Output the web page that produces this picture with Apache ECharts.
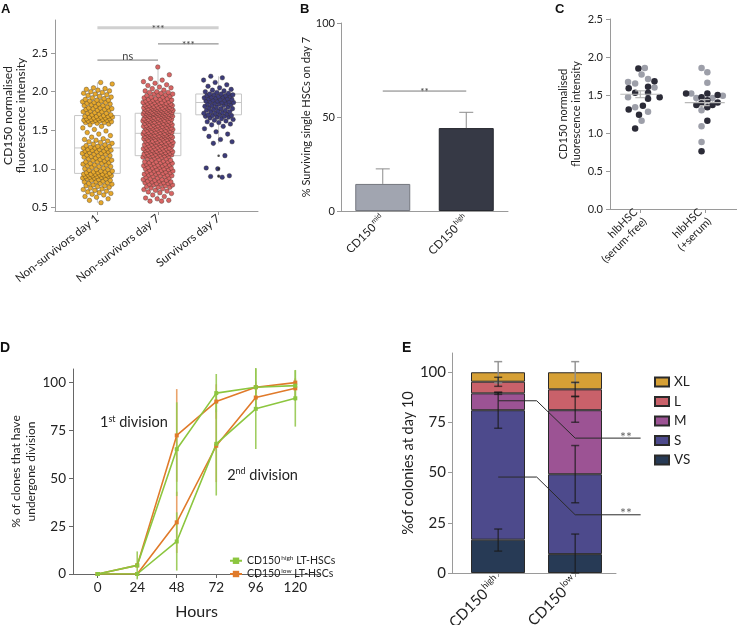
<!DOCTYPE html>
<html>
<head>
<meta charset="utf-8">
<script src="https://cdn.jsdelivr.net/npm/echarts@6/dist/echarts.min.js"></script>
<style>html,body{margin:0;background:#fff}#chart{width:737px;height:625px}</style>
</head>
<body>
<div id="chart"></div>
<script>
// ---- panel A: CD150 intensity per fate ----
var namesA = ['Non-survivors day 1', 'Non-survivors day 7', 'Survivors day 7'];
// [min, Q1, median, Q3, max]
var boxA = [[0.56, 0.94, 1.27, 1.69, 2.12], [0.58, 1.17, 1.46, 1.72, 2.32], [1.33, 1.70, 1.86, 1.97, 2.20]];
var nsDay1 = [0.56,0.59,0.61,0.63,0.64,0.66,0.67,0.68,0.69,0.70,0.71,0.72,0.73,0.74,0.75,0.76,0.77,0.78,0.78,0.79,
  0.80,0.81,0.81,0.82,0.83,0.83,0.84,0.85,0.85,0.86,0.87,0.87,0.88,0.88,0.89,0.89,0.90,0.90,0.90,0.91,
  0.91,0.91,0.92,0.92,0.92,0.93,0.93,0.93,0.93,0.94,0.95,0.95,0.96,0.96,0.97,0.97,0.98,0.99,0.99,
  1.00,1.01,1.02,1.03,1.03,1.04,1.05,1.05,1.06,1.07,1.07,1.08,1.09,1.09,1.10,1.11,1.11,1.12,1.13,1.13,
  1.14,1.15,1.15,1.16,1.17,1.17,1.18,1.19,1.19,1.20,1.20,1.21,1.22,1.22,1.23,1.23,1.24,1.24,1.25,1.25,1.26,
  1.27,1.27,1.28,1.28,1.29,1.29,1.30,1.31,1.32,1.33,1.34,1.35,1.36,1.37,1.38,1.39,1.41,1.43,1.45,1.47,1.49,
  1.51,1.53,1.55,1.57,1.58,1.59,1.60,1.60,1.61,1.61,1.62,1.62,1.63,1.63,1.63,1.64,1.64,1.65,1.65,1.65,
  1.66,1.66,1.67,1.67,1.67,1.68,1.68,1.68,1.69,1.70,1.70,1.71,1.72,1.72,1.73,1.74,1.74,1.75,1.76,1.76,
  1.77,1.77,1.78,1.78,1.79,1.79,1.80,1.81,1.82,1.82,1.83,1.84,1.84,1.85,1.86,1.86,1.87,1.88,1.88,1.89,1.89,
  1.90,1.91,1.92,1.93,1.94,1.95,1.96,1.97,1.98,1.99,2.00,2.01,2.02,2.03,2.04,2.05,2.10,2.12];
var nsDay7 = [0.58,0.58,0.59,0.61,0.62,0.64,0.66,0.68,0.69,0.70,0.71,0.72,0.73,0.74,0.75,0.76,0.76,0.77,0.78,0.79,0.79,
  0.80,0.80,0.81,0.81,0.82,0.82,0.83,0.83,0.84,0.84,0.85,0.85,0.86,0.86,0.87,0.88,0.88,0.89,
  0.90,0.90,0.91,0.91,0.92,0.92,0.93,0.93,0.94,0.94,0.95,0.95,0.96,0.96,0.97,0.97,0.98,0.98,0.99,0.99,
  1.00,1.00,1.01,1.01,1.02,1.02,1.03,1.03,1.04,1.04,1.05,1.05,1.05,1.06,1.06,1.07,1.07,1.08,1.08,1.09,1.09,1.09,
  1.10,1.11,1.11,1.12,1.13,1.13,1.14,1.15,1.15,1.16,1.16,1.16,1.17,1.17,1.17,1.18,1.18,1.18,1.19,1.19,1.19,
  1.20,1.20,1.20,1.21,1.21,1.21,1.22,1.22,1.22,1.23,1.23,1.23,1.24,1.24,1.24,1.25,1.25,1.25,1.26,1.26,1.26,
  1.27,1.27,1.27,1.28,1.28,1.29,1.29,1.30,1.30,1.30,1.31,1.31,1.31,1.32,1.32,1.32,1.33,1.33,1.33,1.34,1.34,1.34,
  1.35,1.35,1.35,1.36,1.36,1.36,1.37,1.37,1.37,1.38,1.38,1.39,1.39,1.40,1.40,1.40,1.40,1.41,1.41,1.41,1.41,
  1.42,1.42,1.42,1.42,1.43,1.43,1.43,1.43,1.44,1.44,1.44,1.45,1.45,1.45,1.46,1.46,1.46,1.46,1.47,1.47,1.47,1.47,
  1.48,1.48,1.48,1.49,1.49,1.49,1.50,1.50,1.50,1.51,1.51,1.51,1.52,1.52,1.52,1.53,1.53,1.53,1.53,1.54,1.54,1.54,
  1.55,1.55,1.55,1.55,1.56,1.56,1.56,1.57,1.57,1.57,1.58,1.58,1.58,1.59,1.59,1.59,1.60,1.60,1.60,1.61,1.61,1.61,
  1.62,1.62,1.62,1.62,1.63,1.63,1.63,1.64,1.64,1.64,1.64,1.65,1.65,1.65,1.66,1.66,1.66,1.66,1.67,1.67,1.67,
  1.68,1.68,1.68,1.68,1.69,1.69,1.69,1.70,1.70,1.70,1.70,1.70,1.71,1.71,1.71,1.71,1.71,1.72,1.72,1.72,1.72,
  1.73,1.73,1.73,1.73,1.74,1.74,1.74,1.74,1.75,1.75,1.75,1.75,1.76,1.76,1.76,1.76,1.77,1.77,1.77,1.77,
  1.78,1.78,1.78,1.78,1.79,1.79,1.79,1.79,1.80,1.80,1.80,1.81,1.81,1.81,1.82,1.82,1.82,1.83,1.83,1.83,
  1.84,1.84,1.84,1.85,1.85,1.85,1.86,1.86,1.86,1.87,1.87,1.88,1.88,1.89,1.89,1.89,1.90,1.90,1.91,1.91,
  1.92,1.93,1.93,1.94,1.95,1.95,1.96,1.97,1.97,1.98,1.99,1.99,2.00,2.01,2.02,2.04,2.05,2.06,2.08,2.09,
  2.11,2.13,2.15,2.17,2.22,2.32];
var survDay7 = [0.89,0.90,0.91,1.00,1.01,1.17,1.33,1.35,1.38,1.42,1.45,1.48,1.52,1.55,1.57,1.58,1.60,1.61,1.62,1.63,
  1.64,1.65,1.66,1.67,1.67,1.68,1.68,1.69,1.69,1.70,1.70,1.71,1.72,1.72,1.73,1.74,1.74,1.75,1.76,1.76,
  1.77,1.78,1.78,1.79,1.80,1.80,1.81,1.82,1.82,1.83,1.84,1.84,1.85,1.85,1.86,1.86,1.87,1.87,1.88,1.88,
  1.89,1.89,1.90,1.90,1.91,1.91,1.92,1.92,1.93,1.93,1.94,1.94,1.95,1.95,1.96,1.96,1.97,1.97,1.98,1.99,
  2.00,2.01,2.02,2.03,2.05,2.07,2.09,2.12,2.15,2.18,2.20];
var survOutliers = [1.17, 1.00, 0.91, 0.90];
// [from, to, y, text]
var sigA = [[0, 2, 2.83, '***'], [0, 1, 2.41, 'ns'], [1, 2, 2.62, '***']];

// ---- panel B: survival ----
var catsB = ['CD150mid', 'CD150high'];
var survivalB = [14.4, 44.1];
var errUpB = [8.0, 8.4];
var sigB = [[0, 1, 63.8, '**']];

// ---- panel C: hlbHSC ----
var catsC = ['hlbHSC\n(serum-free)', 'hlbHSC\n(+serum)'];
// [offset within column, value]
var cFreeDark = [[-0.03,1.85],[0.22,1.68],[-0.18,1.59],[0.12,1.61],[-0.08,1.53],[0.12,1.53],[0.12,1.45],[0.30,1.47],[0.04,1.36],[-0.18,1.31],[-0.02,1.24],[-0.08,1.06]];
var cFreeLight = [[0.07,1.855],[0.02,1.77],[0.12,1.71],[-0.19,1.67],[-0.08,1.65],[0.22,1.60],[-0.19,1.47],[-0.08,1.34],[0.12,1.28],[0.02,1.16]];
var cSerumDark = [[-0.29,1.52],[0.04,1.52],[0.20,1.50],[-0.05,1.47],[0.04,1.43],[-0.13,1.37],[-0.05,1.39],[0.04,1.34],[0.12,1.37],[0.20,1.40],[0.04,1.16],[-0.05,0.76]];
var cSerumLight = [[-0.05,1.855],[0.04,1.80],[0.04,1.66],[-0.21,1.52],[-0.13,1.46],[0.12,1.46],[0.28,1.49],[-0.05,1.30],[-0.05,1.09],[-0.05,0.88]];
var meanC = [1.51, 1.40];
var semC = [0.045, 0.04];

// ---- panel D: division kinetics ----
var hoursD = [0, 24, 48, 72, 96, 120];
var highDiv1 = [0, 4.5, 65.2, 94.5, 97.6, 98.4];
var lowDiv1 = [0, 4.5, 72.4, 90.1, 97.6, 100];
var highDiv2 = [0, 0, 17, 68, 86.3, 91.8];
var lowDiv2 = [0, 0, 27, 67, 92.2, 97];
var errHigh1 = [0, 7.3, 24.5, 10, 10, 8];
var errLow1 = [0, 1, 24.2, 9, 3, 2.3];
var errHigh2 = [0, 0, 15.2, 27, 21, 14.8];
var errLow2 = [0, 0, 16, 19, 6, 5];
var notesD = [[1.4, 79, '1', 'st'], [78.6, 51.5, '2', 'nd']];

// ---- panel E: colony size ----
var sizesE = ['VS', 'S', 'M', 'L', 'XL'];
var catsE = ['CD150high', 'CD150low'];
var pctHigh = [16.6, 64.5, 8.4, 5.8, 4.7];
var pctLow = [9.4, 39.8, 31.9, 10.4, 8.5];
var errHigh = [[10.9, 21.9], [72.1, 90.0], [89.0, 90.0], [93.0, 97.5], [94.7, 105.3]];
var errLow = [[0, 19.4], [35.0, 63.5], [75.1, 87.9], [88.0, 95.0], [94.7, 105.3]];
// [from y at CD150high, to y at CD150low, text]
var sigE = [[85.8, 67.2, '**'], [47.8, 29.0, '**']];

var FONT = 'Lato, "Open Sans", sans-serif';
var TXT = '#222';
var AX = '#9a9a9a';
var GREEN = '#8cc63f', ORANGE = '#e07a2a';
var colA = ['#e6a82d', '#d86565', '#3c3c7a'];
var colB = ['#a1a5b0', '#363945'];
var colE = ['#273a55', '#4d4a8c', '#9c5394', '#c9616a', '#d6a035'];

function merge(a, extra) {
    for (var k in extra) {
        if (extra[k] && typeof extra[k] === 'object' && !Array.isArray(extra[k]) && a[k]) Object.assign(a[k], extra[k]);
        else a[k] = extra[k];
    }
    return a;
}

function valAxis(grid, min, max, ticks, fs, extra) {
    return merge({
        gridIndex: grid, type: 'value', min: min, max: max,
        axisLine: { show: true, onZero: false, lineStyle: { color: AX, width: 1 } },
        axisTick: { show: true, length: 4, customValues: ticks, lineStyle: { color: AX } },
        axisLabel: { customValues: ticks, color: TXT, fontFamily: FONT, fontSize: fs, margin: 7 },
        splitLine: { show: false },
        nameTextStyle: { color: TXT, fontFamily: FONT }
    }, extra || {});
}

// category axis that only carries ticks and labels (its grid has no visible axis line)
function labelAxis(grid, cats, extra) {
    return merge({
        gridIndex: grid, type: 'category', data: cats,
        axisLine: { show: false },
        axisTick: { show: true, alignWithLabel: true, length: 4, lineStyle: { color: AX } },
        axisLabel: { color: TXT, fontFamily: FONT, margin: 6, interval: 0 }
    }, extra || {});
}
function hiddenY(grid, min, max) {
    return { gridIndex: grid, type: 'value', min: min, max: max, show: false };
}
function grid(l, t, w, h) {
    return { left: l, top: t, width: w, height: h, containLabel: false, outerBoundsMode: 'none' };
}

function jitter(k, spread) {
    return (((k + 1) * 0.6180339887) % 1 - 0.5) * spread;
}

function supRich(fs, sfs) {
    return {
        n: { fontSize: fs, fontFamily: FONT, color: TXT, lineHeight: fs + 3 },
        s: { fontSize: sfs, fontFamily: FONT, color: TXT, verticalAlign: 'top', lineHeight: fs + 3, padding: [0, 0, 0, 1] }
    };
}
function cd150(v) {
    return '{n|CD150}{s|' + v.replace('CD150', '') + '}';
}

function sigRender(rows, fsStar) {
    return function (p, api) {
        var r = rows[p.dataIndex];
        var a = api.coord([r[0], r[2]]), b = api.coord([r[1], r[2]]);
        var thick = rows === sigA && p.dataIndex === 0;
        var isStar = r[3].indexOf('*') >= 0;
        return {
            type: 'group',
            children: [
                { type: 'line', shape: { x1: a[0], y1: a[1], x2: b[0], y2: b[1] },
                  style: { stroke: thick ? '#d0d0d0' : '#7a7a7a', lineWidth: thick ? 3 : 1 } },
                { type: 'text', x: (a[0] + b[0]) / 2, y: isStar ? a[1] + 1 : a[1] + 2,
                  style: { text: r[3], fill: '#444', font: (isStar ? fsStar : 11) + 'px ' + FONT,
                           textAlign: 'center', textVerticalAlign: isStar ? 'middle' : 'bottom' } }
            ]
        };
    };
}

function errRender(rows, color) {
    return function (p, api) {
        var x = hoursD[p.dataIndex];
        var a = api.coord([x, rows.v[p.dataIndex] - rows.e[p.dataIndex]]);
        var b = api.coord([x, rows.v[p.dataIndex] + rows.e[p.dataIndex]]);
        return { type: 'line', shape: { x1: a[0], y1: a[1], x2: b[0], y2: b[1] },
                 style: { stroke: color, lineWidth: 1.6 } };
    };
}

var chart = echarts.init(document.getElementById('chart'), null, { renderer: 'canvas' });

var series = [];

// A: boxes
series.push({
    type: 'custom', xAxisIndex: 0, yAxisIndex: 0, z: 1,
    data: boxA.map(function (b, i) { return [i, b[2]]; }),
    renderItem: function (p, api) {
        var b = boxA[p.dataIndex], i = p.dataIndex, w = 0.377;
        var tl = api.coord([i - w, b[3]]), br = api.coord([i + w, b[1]]);
        var md = api.coord([i, b[2]]), mx = api.coord([i, b[4]]), mn = api.coord([i, b[0]]);
        var st = { stroke: '#c6c6c6', lineWidth: 1, fill: null };
        return { type: 'group', children: [
            { type: 'rect', shape: { x: tl[0], y: tl[1], width: br[0] - tl[0], height: br[1] - tl[1] }, style: st },
            { type: 'line', shape: { x1: tl[0], y1: md[1], x2: br[0], y2: md[1] }, style: st },
            { type: 'line', shape: { x1: mx[0], y1: mx[1], x2: mx[0], y2: tl[1] }, style: st },
            { type: 'line', shape: { x1: mn[0], y1: br[1], x2: mn[0], y2: mn[1] }, style: st }
        ] };
    }
});
[nsDay1, nsDay7, survDay7].forEach(function (vals, i) {
    series.push({
        type: 'scatter', xAxisIndex: 0, yAxisIndex: 0, z: 2,
        symbolSize: 4.6,
        itemStyle: { color: colA[i], borderColor: 'rgba(50,40,30,0.7)', borderWidth: 0.5, opacity: 1 },
        data: vals.map(function (v, k) { return [i + jitter(k, 0.5), v]; })
    });
});
series.push({
    type: 'scatter', xAxisIndex: 0, yAxisIndex: 0, z: 3, symbolSize: 2.5,
    itemStyle: { color: '#222' },
    data: survOutliers.map(function (v) { return [2, v]; })
});
series.push({
    type: 'custom', xAxisIndex: 0, yAxisIndex: 0, z: 3, clip: false,
    data: sigA.map(function (r) { return [r[0], r[2]]; }),
    renderItem: sigRender(sigA, 10)
});

// B
series.push({
    type: 'bar', xAxisIndex: 1, yAxisIndex: 1, barWidth: 55,
    data: survivalB.map(function (v, i) {
        return { value: v, itemStyle: { color: colB[i], borderColor: i ? '#26282f' : '#74777f', borderWidth: 1 } };
    })
});
series.push({
    type: 'custom', xAxisIndex: 1, yAxisIndex: 1, z: 3,
    data: survivalB.map(function (v, i) { return [i, v]; }),
    renderItem: function (p, api) {
        var i = p.dataIndex, v = survivalB[i];
        var a = api.coord([i, v]), b = api.coord([i, v + errUpB[i]]);
        var st = { stroke: '#8c8c8c', lineWidth: 1 };
        return { type: 'group', children: [
            { type: 'line', shape: { x1: a[0], y1: a[1], x2: b[0], y2: b[1] }, style: st },
            { type: 'line', shape: { x1: b[0] - 7, y1: b[1], x2: b[0] + 7, y2: b[1] }, style: st }
        ] };
    }
});
series.push({
    type: 'custom', xAxisIndex: 1, yAxisIndex: 1, z: 3,
    data: sigB.map(function (r) { return [r[0], r[2]]; }),
    renderItem: sigRender(sigB, 10)
});

// C
[[cFreeLight, 0, '#9d9fa9'], [cSerumLight, 1, '#9d9fa9'], [cFreeDark, 0, '#2b2b37'], [cSerumDark, 1, '#2b2b37']].forEach(function (g, k) {
    series.push({
        type: 'scatter', xAxisIndex: 2, yAxisIndex: 2, symbolSize: 6.5, z: k < 2 ? 2 : 3,
        itemStyle: { color: g[2], opacity: 1 },
        data: g[0].map(function (d) { return [g[1] + d[0], d[1]]; })
    });
});
series.push({
    type: 'custom', xAxisIndex: 2, yAxisIndex: 2, z: 4,
    data: meanC.map(function (m, i) { return [i, m]; }),
    renderItem: function (p, api) {
        var i = p.dataIndex, m = meanC[i], s = semC[i];
        var l = api.coord([i - 0.31, m]), r = api.coord([i + 0.31, m]);
        var hi = api.coord([i, m + s]), lo = api.coord([i, m - s]);
        var st = { stroke: '#b8b8b8', lineWidth: 1.2 };
        return { type: 'group', children: [
            { type: 'line', shape: { x1: l[0], y1: l[1], x2: r[0], y2: r[1] }, style: st },
            { type: 'line', shape: { x1: hi[0], y1: hi[1], x2: lo[0], y2: lo[1] }, style: st },
            { type: 'line', shape: { x1: hi[0] - 5, y1: hi[1], x2: hi[0] + 5, y2: hi[1] }, style: st },
            { type: 'line', shape: { x1: lo[0] - 5, y1: lo[1], x2: lo[0] + 5, y2: lo[1] }, style: st }
        ] };
    }
});

// D
[[{ v: lowDiv1, e: errLow1 }, 'rgba(228,140,70,0.8)'], [{ v: lowDiv2, e: errLow2 }, 'rgba(228,140,70,0.8)'],
 [{ v: highDiv1, e: errHigh1 }, 'rgba(150,200,80,0.9)'], [{ v: highDiv2, e: errHigh2 }, 'rgba(150,200,80,0.9)']].forEach(function (g, k) {
    series.push({
        type: 'custom', xAxisIndex: 3, yAxisIndex: 3, z: 2 + (k >> 1), clip: false,
        data: g[0].v.map(function (v, i) { return [hoursD[i], v]; }),
        renderItem: errRender(g[0], g[1])
    });
});
[['CD150low LT-HSCs', lowDiv1, ORANGE], ['CD150low LT-HSCs', lowDiv2, ORANGE],
 ['CD150high LT-HSCs', highDiv1, GREEN], ['CD150high LT-HSCs', highDiv2, GREEN]].forEach(function (g) {
    series.push({
        name: g[0], type: 'line', xAxisIndex: 3, yAxisIndex: 3, z: 5,
        symbol: 'rect', symbolSize: 4, showSymbol: true,
        lineStyle: { color: g[2], width: 1.6 }, itemStyle: { color: g[2] },
        data: g[1].map(function (v, i) { return [hoursD[i], v]; })
    });
});
series.push({
    type: 'custom', xAxisIndex: 3, yAxisIndex: 3, z: 6, clip: false,
    data: notesD.map(function (n) { return [n[0], n[1]]; }),
    renderItem: function (p, api) {
        var n = notesD[p.dataIndex], c = api.coord([n[0], n[1]]);
        return { type: 'text', x: c[0], y: c[1],
                 style: { text: '{n|' + n[2] + '}{s|' + n[3] + '}{n| division}', textAlign: 'left', textVerticalAlign: 'middle',
                          rich: { n: { fontSize: 14.5, fontFamily: FONT, fill: TXT, lineHeight: 17 },
                                  s: { fontSize: 9, fontFamily: FONT, fill: TXT, verticalAlign: 'top', lineHeight: 17 } } } };
    }
});

// E: stacked bars live on the hidden category grid (index 6), the rest on the visible grid (index 4)
sizesE.forEach(function (name, k) {
    series.push({
        name: name, type: 'bar', stack: 'E', xAxisIndex: 6, yAxisIndex: 6, barWidth: 54, z: 2,
        itemStyle: { color: colE[k], borderColor: '#2a2a2a', borderWidth: 1 },
        data: [pctHigh[k], pctLow[k]]
    });
});
var errRowsE = [];
[errHigh, errLow].forEach(function (rows, c) {
    for (var k = rows.length - 1; k >= 0; k--) errRowsE.push([c, rows[k][0], rows[k][1], k]);
});
series.push({
    type: 'custom', xAxisIndex: 4, yAxisIndex: 4, z: 4, clip: false,
    data: errRowsE.map(function (r) { return [r[0], r[1], r[2]]; }),
    renderItem: function (p, api) {
        var r = errRowsE[p.dataIndex];
        var a = api.coord([r[0], r[1]]), b = api.coord([r[0], r[2]]);
        var st = { stroke: r[3] === 4 ? 'rgba(140,140,140,0.9)' : 'rgba(25,25,25,0.7)', lineWidth: 1.5 };
        return { type: 'group', children: [
            { type: 'line', shape: { x1: a[0], y1: a[1], x2: b[0], y2: b[1] }, style: st },
            { type: 'line', shape: { x1: a[0] - 4, y1: a[1], x2: a[0] + 4, y2: a[1] }, style: st },
            { type: 'line', shape: { x1: b[0] - 4, y1: b[1], x2: b[0] + 4, y2: b[1] }, style: st }
        ] };
    }
});
series.push({
    type: 'custom', xAxisIndex: 4, yAxisIndex: 4, z: 5, clip: false,
    data: sigE.map(function (r) { return [1, r[1]]; }),
    renderItem: function (p, api) {
        var r = sigE[p.dataIndex];
        var pts = [[0, r[0]], [0.5, r[0]], [1, r[1]], [1.85, r[1]]].map(function (d) { return api.coord(d); });
        var t = api.coord([1.66, r[1]]);
        return { type: 'group', children: [
            { type: 'polyline', shape: { points: pts }, style: { stroke: '#2a2a2a', lineWidth: 1, fill: null } },
            { type: 'text', x: t[0], y: t[1] - 1, style: { text: r[2], fill: '#666', font: '14px ' + FONT, textAlign: 'center', textVerticalAlign: 'middle' } }
        ] };
    }
});

var noLabels = { axisLabel: { show: false }, axisTick: { show: false } };

var option = {
    animation: false,
    textStyle: { fontFamily: FONT },
    grid: [
        grid(55, 20, 203, 191),
        grid(341, 23, 167, 188),
        grid(610, 19, 127, 190),
        grid(73, 369, 247, 205),
        grid(452, 353, 164, 220),
        grid(67.1, 20, 181.8, 191),
        grid(459.5, 353, 154, 220)
    ],
    xAxis: [
        valAxis(0, -0.7, 2.65, [], 11.5, noLabels),
        {
            gridIndex: 1, type: 'category', data: catsB,
            axisLine: { lineStyle: { color: AX } },
            axisTick: { alignWithLabel: true, length: 4, lineStyle: { color: AX } },
            axisLabel: { rotate: 45, margin: 6, formatter: cd150, rich: supRich(11.5, 7) }
        },
        valAxis(2, -0.47, 1.5, [0, 1], 11, {
            axisLabel: { rotate: 45, margin: 6, lineHeight: 13, formatter: function (v) { return catsC[Math.round(v)]; } }
        }),
        valAxis(3, -15, 135, hoursD, 13.5, {
            axisLine: { lineStyle: { color: '#666' } }, axisTick: { lineStyle: { color: '#666' } },
            name: 'Hours', nameLocation: 'middle', nameGap: 30, nameTextStyle: { fontSize: 16 }
        }),
        valAxis(4, -0.6, 1.53, [], 15, noLabels),
        labelAxis(5, namesA, { axisLabel: { rotate: 38, fontSize: 11.5 } }),
        labelAxis(6, catsE, { axisLabel: { rotate: 45, formatter: cd150, rich: supRich(15, 9) } })
    ],
    yAxis: [
        valAxis(0, 0.452, 2.93, [0.5, 1, 1.5, 2, 2.5], 11.5, {
            axisLabel: { formatter: function (v) { return v.toFixed(1); } },
            name: 'CD150 normalised\nfluorescence intensity', nameLocation: 'middle', nameGap: 27,
            nameTextStyle: { fontSize: 12, lineHeight: 13 }
        }),
        valAxis(1, 0, 100, [0, 50, 100], 11, {
            axisLabel: { margin: 6 },
            name: '% Surviving single HSCs on day 7', nameLocation: 'middle', nameGap: 24,
            nameTextStyle: { fontSize: 11 }
        }),
        valAxis(2, 0, 2.5, [0, 0.5, 1, 1.5, 2, 2.5], 11, {
            axisLabel: { formatter: function (v) { return v.toFixed(1); } },
            name: 'CD150 normalised\nfluorescence intensity', nameLocation: 'middle', nameGap: 27,
            nameTextStyle: { fontSize: 11, lineHeight: 13 }
        }),
        valAxis(3, 0, 107.1, [0, 25, 50, 75, 100], 13.5, {
            axisLine: { lineStyle: { color: '#666' } }, axisTick: { lineStyle: { color: '#666' } },
            name: '% of clones that have\nundergone division', nameLocation: 'middle', nameGap: 31,
            nameTextStyle: { fontSize: 12, lineHeight: 15 }
        }),
        valAxis(4, 0, 109.6, [0, 25, 50, 75, 100], 15, {
            axisLabel: { margin: 6 },
            name: '%of colonies at day 10', nameLocation: 'middle', nameGap: 28,
            nameTextStyle: { fontSize: 14.5 }
        }),
        hiddenY(5, 0.452, 2.93),
        hiddenY(6, 0, 109.6)
    ],
    legend: [
        {
            data: ['CD150high LT-HSCs', 'CD150low LT-HSCs'], left: 224, top: 549, orient: 'vertical',
            itemGap: 1, itemWidth: 12, itemHeight: 8,
            formatter: function (n) { return n.replace(/CD150(high|low)/, '{n|CD150}{s|$1}{n|') + '}'; },
            textStyle: { fontSize: 10.5, color: TXT, fontFamily: FONT, rich: supRich(10.5, 6.5) }
        },
        {
            data: ['XL', 'L', 'M', 'S', 'VS'], left: 649, top: 370, orient: 'vertical', icon: 'rect',
            itemGap: 5.5, itemWidth: 14, itemHeight: 9,
            textStyle: { fontSize: 13.5, color: TXT, fontFamily: FONT }
        }
    ],
    graphic: [
        { type: 'text', left: 1, top: 3, style: { text: 'A', font: 'bold 13px "Liberation Sans"', fill: '#111' } },
        { type: 'text', left: 300, top: 3, style: { text: 'B', font: 'bold 13px "Liberation Sans"', fill: '#111' } },
        { type: 'text', left: 555, top: 3, style: { text: 'C', font: 'bold 13px "Liberation Sans"', fill: '#111' } },
        { type: 'text', left: 0, top: 341, style: { text: 'D', font: 'bold 14px "Liberation Sans"', fill: '#111' } },
        { type: 'text', left: 402, top: 341, style: { text: 'E', font: 'bold 14px "Liberation Sans"', fill: '#111' } }
    ],
    series: series
};

chart.setOption(option);
</script>
</body>
</html>
